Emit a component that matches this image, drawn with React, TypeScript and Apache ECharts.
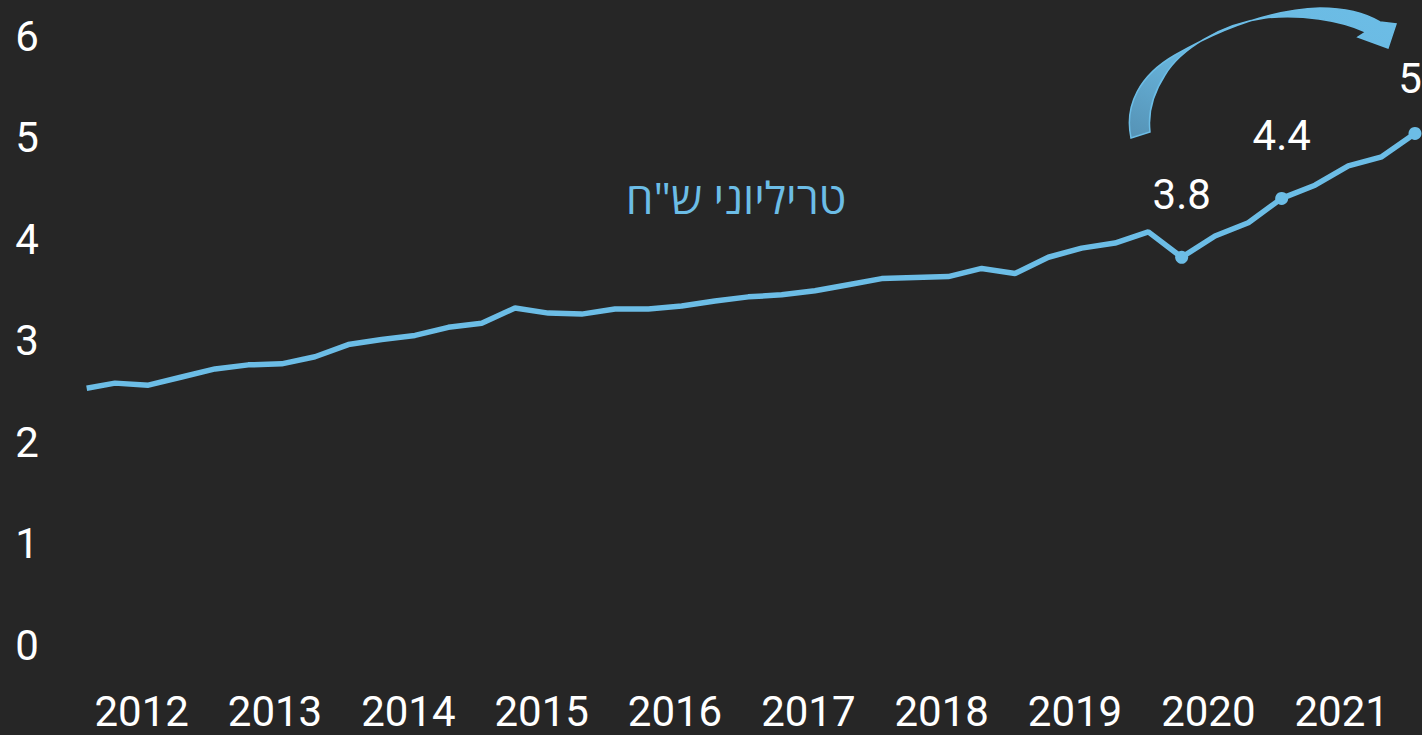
import React, { useEffect, useRef } from "react";
import * as echarts from "echarts";

// x position in quarters (0 = first full quarter shown), y in trillions of shekels
const quarterPos = [
  -0.85, 0, 1, 2, 3, 4, 5, 6, 7, 8, 9, 10, 11, 12, 13, 14, 15, 16, 17, 18, 19,
  20, 21, 22, 23, 24, 25, 26, 27, 28, 29, 30, 31, 32, 33, 34, 35, 36, 37, 38, 39,
];
const assetValues = [
  2.53, 2.58, 2.56, 2.64, 2.72, 2.76, 2.77, 2.84, 2.96, 3.01, 3.05, 3.13, 3.17,
  3.32, 3.27, 3.26, 3.31, 3.31, 3.34, 3.39, 3.43, 3.45, 3.49, 3.55, 3.61, 3.62,
  3.63, 3.71, 3.66, 3.82, 3.91, 3.96, 4.07, 3.82, 4.03, 4.16, 4.4, 4.53, 4.72,
  4.81, 5.04,
];
// highlighted points (index into the arrays above) and their labels
const highlightIdx = [33, 36, 40];
const highlightText = ["3.8", "4.4", "5"];

const yearLabels = ["2012", "2013", "2014", "2015", "2016", "2017", "2018", "2019", "2020", "2021"];
const yearLabelStart = 0.8; // quarter position of the first year label
const unitText = 'טריליוני ש"ח';

const ARROW_D =
  "M1131 138 C1124 105 1140 75 1175 55 C1215 32 1265 10 1320 8 C1345 8 1365 13 1380 22 " +
  "L1396 24 L1388 48 L1358 37 L1366 32 " +
  "C1340 20 1300 14 1265 18 C1220 24 1180 50 1165 75 C1152 95 1148 115 1150 132 Z";

let registered = false;
function registerArrow() {
  if (registered) return;
  echarts.graphic.registerShape("curvedArrow", echarts.graphic.extendPath(ARROW_D, {}));
  registered = true;
}

const BLUE = "#6cbde6";
const NUM_FONT = "Roboto, 'Open Sans', sans-serif";
const HEB_FONT = "'Open Sans', 'Liberation Sans', 'DejaVu Sans', sans-serif";

export default function App() {
  const ref = useRef<HTMLDivElement>(null);

  useEffect(() => {
    if (!ref.current) return;
    registerArrow();
    const chart = echarts.init(ref.current, undefined, { renderer: "svg" });

    const data = assetValues.map((v, i) => {
      const h = highlightIdx.indexOf(i);
      if (h < 0) return { value: [quarterPos[i], v], symbol: "none" };
      const isLast = i === assetValues.length - 1;
      return {
        value: [quarterPos[i], v],
        symbol: "circle",
        symbolSize: 13,
        label: {
          show: true,
          position: "top",
          distance: 35,
          offset: isLast ? [-5, 8] : [0, 0],
          formatter: highlightText[h],
          color: "#ffffff",
          fontSize: 42,
          fontFamily: NUM_FONT,
        },
      };
    });

    chart.setOption({
      animation: false,
      backgroundColor: "#262626",
      grid: {
        left: 8.33,
        right: 7,
        top: 36,
        bottom: 90,
        containLabel: false,
        outerBoundsMode: "none",
      },
      xAxis: {
        type: "value",
        min: yearLabelStart - 4,
        max: 39,
        interval: 4,
        axisLine: { show: false },
        axisTick: { show: false },
        splitLine: { show: false },
        axisLabel: {
          color: "#ffffff",
          fontSize: 42,
          fontFamily: NUM_FONT,
          margin: 45,
          formatter: (v: number) => {
            const f = (v - yearLabelStart) / 4;
            const idx = Math.round(f);
            if (Math.abs(f - idx) > 0.01 || idx < 0 || idx >= yearLabels.length) return "";
            return yearLabels[idx];
          },
        },
      },
      yAxis: {
        type: "value",
        min: 0,
        max: 6,
        interval: 1,
        axisLine: { show: false },
        axisTick: { show: false },
        splitLine: { show: false },
        axisLabel: {
          inside: true,
          margin: 7,
          color: "#ffffff",
          fontSize: 42,
          fontFamily: NUM_FONT,
        },
      },
      series: [
        {
          type: "line",
          data,
          showSymbol: true,
          showAllSymbol: true,
          itemStyle: { color: BLUE },
          lineStyle: { color: BLUE, width: 5.5 },
          emphasis: { disabled: true },
          z: 3,
        },
      ],
      graphic: [
        {
          type: "text",
          x: 736,
          y: 197,
          style: {
            text: unitText,
            fill: BLUE,
            fontSize: 44,
            fontFamily: HEB_FONT,
            align: "center",
            verticalAlign: "middle",
          },
        },
        {
          type: "curvedArrow",
          x: 0,
          y: 0,
          style: {
            fill: new echarts.graphic.LinearGradient(0, 1, 1, 0, [
              { offset: 0, color: "#5592b5" },
              { offset: 0.45, color: "#6ab8e0" },
              { offset: 1, color: BLUE },
            ]),
            stroke: BLUE,
            lineWidth: 1.5,
          },
        },
      ],
    });

    return () => chart.dispose();
  }, []);

  return (
    <div
      ref={ref}
      style={{ position: "fixed", left: 0, top: 0, width: 1422, height: 735, background: "#262626" }}
    />
  );
}
